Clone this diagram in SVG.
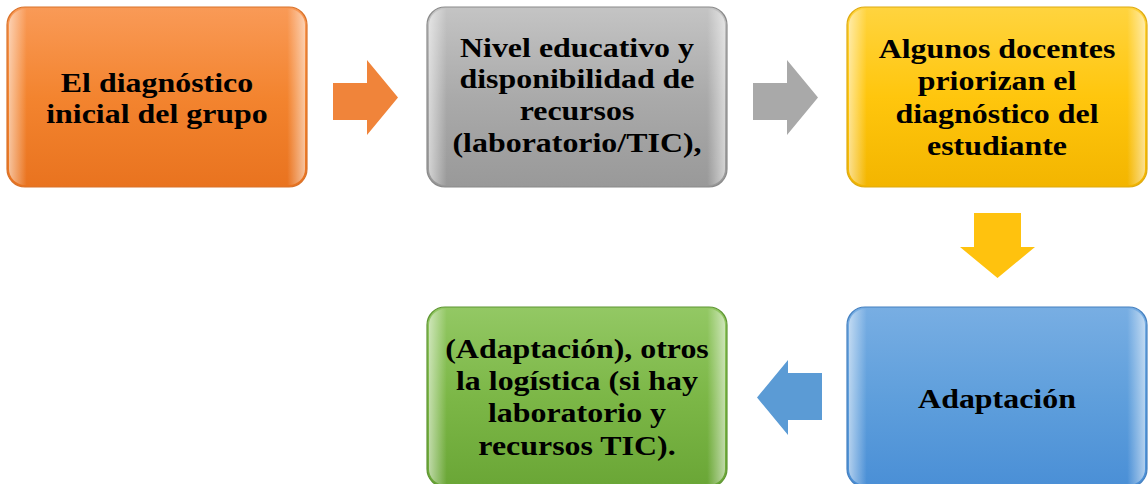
<svg xmlns="http://www.w3.org/2000/svg" width="1148" height="484" viewBox="0 0 1148 484">
<defs>
<linearGradient id="gO" x1="0" y1="0" x2="0" y2="1"><stop offset="0" stop-color="#f99a57"/><stop offset="0.5" stop-color="#f3842f"/><stop offset="1" stop-color="#e9731f"/></linearGradient>
<linearGradient id="gG" x1="0" y1="0" x2="0" y2="1"><stop offset="0" stop-color="#c4c4c4"/><stop offset="0.5" stop-color="#aaaaaa"/><stop offset="1" stop-color="#999999"/></linearGradient>
<linearGradient id="gY" x1="0" y1="0" x2="0" y2="1"><stop offset="0" stop-color="#ffd43f"/><stop offset="0.5" stop-color="#ffc60d"/><stop offset="1" stop-color="#f3b500"/></linearGradient>
<linearGradient id="gB" x1="0" y1="0" x2="0" y2="1"><stop offset="0" stop-color="#78aee3"/><stop offset="0.5" stop-color="#5f9fdc"/><stop offset="1" stop-color="#4a8fd6"/></linearGradient>
<linearGradient id="gV" x1="0" y1="0" x2="0" y2="1"><stop offset="0" stop-color="#93c864"/><stop offset="0.5" stop-color="#7cb747"/><stop offset="1" stop-color="#6aa636"/></linearGradient>
<linearGradient id="hl" x1="0" y1="0" x2="1" y2="0"><stop offset="0" stop-color="#fff" stop-opacity="0.55"/><stop offset="0.06" stop-color="#fff" stop-opacity="0"/><stop offset="0.94" stop-color="#fff" stop-opacity="0"/><stop offset="1" stop-color="#fff" stop-opacity="0.55"/></linearGradient>
</defs>
<style>
.box{stroke-width:1.2}
.bev{fill:url(#hl)}
.t{font-family:"Liberation Serif","Times New Roman",serif;font-weight:bold;font-size:28px;fill:#000;text-anchor:middle}
</style>
<g id="connectors">
<path d="M333,83 H367 V60 L398,97.5 L367,135 V120 H333 Z" fill="#f0843a"/>
<path d="M753,83 H787 V60 L818,97.5 L787,135 V120 H753 Z" fill="#a9a9a9"/>
<path d="M974,213 H1021 V247 H1035 L997.5,278 L960,247 H974 Z" fill="#ffc20e"/>
<path d="M822,373 H788 V360 L757,397.5 L788,435 V420 H822 Z" fill="#5b9bd5"/>
</g>
<g id="n1">
<rect class="box" x="7" y="7" width="300" height="180" rx="18" fill="url(#gO)" stroke="#d9722a"/>
<rect class="bev" x="9" y="9" width="296" height="176" rx="16"/>
<text class="t" transform="translate(157,0) scale(1.14,1)"><tspan x="0" y="92">El diagnóstico</tspan><tspan x="0" y="123">inicial del grupo</tspan></text>
</g>
<g id="n2">
<rect class="box" x="427" y="7" width="300" height="180" rx="18" fill="url(#gG)" stroke="#8a8a8a"/>
<rect class="bev" x="429" y="9" width="296" height="176" rx="16"/>
<text class="t" transform="translate(577,0) scale(1.14,1)"><tspan x="0" y="57">Nivel educativo y</tspan><tspan x="0" y="88">disponibilidad de</tspan><tspan x="0" y="120">recursos</tspan><tspan x="0" y="152">(laboratorio/TIC),</tspan></text>
</g>
<g id="n3">
<rect class="box" x="847" y="7" width="300" height="180" rx="18" fill="url(#gY)" stroke="#deaa10"/>
<rect class="bev" x="849" y="9" width="296" height="176" rx="16"/>
<text class="t" transform="translate(997,0) scale(1.14,1)"><tspan x="0" y="58">Algunos docentes</tspan><tspan x="0" y="90">priorizan el</tspan><tspan x="0" y="123">diagnóstico del</tspan><tspan x="0" y="155">estudiante</tspan></text>
</g>
<g id="n4">
<rect class="box" x="847" y="307" width="300" height="180" rx="18" fill="url(#gB)" stroke="#4580c0"/>
<rect class="bev" x="849" y="309" width="296" height="176" rx="16"/>
<text class="t" transform="translate(997,0) scale(1.14,1)" x="0" y="408">Adaptación</text>
</g>
<g id="n5">
<rect class="box" x="427" y="307" width="300" height="180" rx="18" fill="url(#gV)" stroke="#5f9633"/>
<rect class="bev" x="429" y="309" width="296" height="176" rx="16"/>
<text class="t" transform="translate(577,0) scale(1.14,1)"><tspan x="0" y="358">(Adaptación), otros</tspan><tspan x="0" y="390">la logística (si hay</tspan><tspan x="0" y="422">laboratorio y</tspan><tspan x="0" y="455">recursos TIC).</tspan></text>
</g>
</svg>
